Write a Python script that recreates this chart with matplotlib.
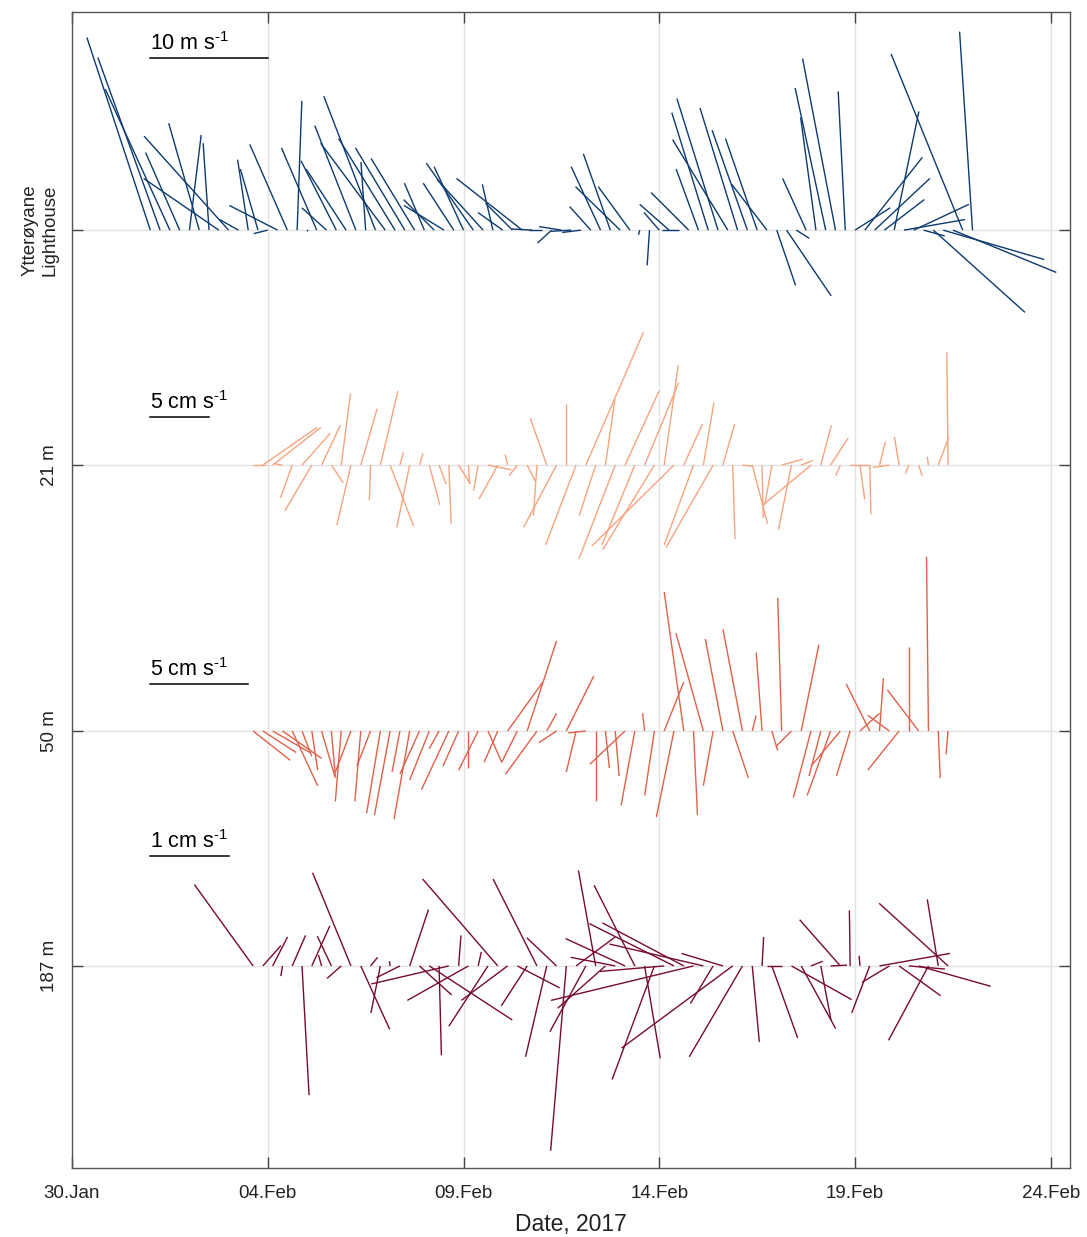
import numpy as np
import pandas as pd
import matplotlib
matplotlib.use('Agg')
import matplotlib.pyplot as plt
import matplotlib.dates as mdates
from matplotlib.collections import LineCollection

plt.rcParams['font.family'] = ['Liberation Sans', 'DejaVu Sans']
plt.rcParams['mathtext.fontset'] = 'custom'
plt.rcParams['mathtext.rm'] = 'Liberation Sans'
plt.rcParams['mathtext.default'] = 'regular'

# ---------------- data ----------------
series_labels = ['Ytterøyane\nLighthouse', '21 m', '50 m', '187 m']
scale_labels = ['10 m s$^{\\text{-1}}$', '5 cm s$^{\\text{-1}}$', '5 cm s$^{\\text{-1}}$', '1 cm s$^{\\text{-1}}$']
scale_refs = [10, 5, 5, 1]

lh_time = pd.date_range('2017-02-01 00:00', periods=85, freq='6h')
lh_u = [-5.4, -5.3, -5.5, -2.9, 1.0, -2.6, -0.5, -6.4, -7.2, -1.6,
        -0.9, -1.5, -1.2, -4.1, -3.2, 0.4, 0.1, -3.0, -2.1, -3.0,
        -3.4, -3.5, -0.4, -4.4, -5.5, -4.8, -4.2, -3.7, -1.7, -2.6,
        -3.4, -2.6, -2.5, -4.0, -3.9, -0.9, -2.1, -2.3, -5.6, -1.7,
        -1.1, -1.2, -1.9, -1.7, -1.6, -1.8, -2.5, -2.3, -3.8, -2.7,
        -0.1, -0.2, -1.3, -2.5, -1.4, -3.2, -1.9, -3.1, -3.5, -4.7,
        -3.2, -3.0, -2.7, -3.0, 1.6, 3.8, 1.1, -2.0, -1.3, -2.6,
        -2.8, -0.6, 3.0, 4.9, 4.7, 3.4, 2.1, 5.2, 4.7, 1.8,
        7.8, 8.6, 8.8, -6.1, -1.1]
lh_v = [16.4, 14.7, 12.0, 6.6, 8.1, 9.1, 7.4, 4.4, 8.0, 0.9,
        6.0, 5.2, -0.3, 2.1, 7.3, 11.0, -0.1, 7.0, 1.9, 5.9,
        5.2, 8.9, 5.8, 11.4, 7.4, 7.8, 7.0, 6.1, 4.0, 2.6,
        2.1, 4.0, 5.4, 5.7, 4.3, 3.9, 1.5, 2.3, 4.4, 0.1,
        0.0, -1.1, 0.3, -0.1, -0.2, 2.0, 5.4, 6.5, 3.7, 3.7,
        -0.4, -3.0, 1.5, 2.2, 0.0, 3.2, 5.2, 10.0, 11.2, 7.7,
        10.4, 8.5, 7.8, 3.9, -4.7, -5.6, -0.7, 4.4, 9.6, 12.1,
        14.6, 11.8, 1.9, 6.2, 4.4, 2.6, 10.1, 0.9, 2.2, -0.5,
        -7.0, -2.5, -3.6, 15.0, 16.9]

cm_time = pd.date_range('2017-02-03 15:00', periods=72, freq='6h')
u21 = [1.1, 4.6, 4.1, -0.6, -1.0, 2.4, -2.3, 1.6, 1.0, 0.8,
       -1.2, 1.4, -0.1, 1.5, 2.0, 0.3, -1.1, 0.3, 0.9, 0.6,
       0.2, 1.0, 0.1, -0.4, 2.0, -1.6, -0.2, -0.7, 0.7, -0.3,
       -1.4, -2.8, 0.0, -2.6, 4.9, -1.4, 0.8, -3.1, 2.9, -2.8,
       2.9, -4.4, 1.2, -7.0, 1.6, -2.5, 0.9, -4.0, 1.0, 0.2,
       0.9, 1.3, 0.1, -0.6, 1.8, -1.1, 1.0, -4.1, 0.9, 1.5,
       -0.4, 1.6, 0.4, 0.1, 0.5, -1.4, -0.4, -0.3, 0.3, -0.1,
       0.9, -0.1]
v21 = [0.0, 3.2, 3.2, 0.1, -2.8, 2.7, -3.9, 3.4, -1.5, 6.1,
       -5.1, 4.8, -3.0, 6.3, -5.2, 1.1, -5.3, 1.0, -3.4, -1.6,
       -5.0, -1.6, -1.6, -2.2, -0.4, -2.9, 0.9, -0.9, -1.4, -4.3,
       4.0, -5.3, 5.2, -6.8, 11.3, -4.3, 5.6, -8.0, 6.3, -6.8,
       7.0, -7.2, 8.5, -6.9, 3.5, -6.8, 5.3, -7.0, 3.5, -6.3,
       -0.1, -5.0, -4.5, -3.4, 0.5, -5.5, 0.4, -3.4, 3.4, 2.3,
       -0.9, 0.0, -2.9, -4.2, 2.0, -0.2, 2.4, -0.7, -0.9, 0.7,
       2.4, 9.6]

u50 = [1.9, 1.7, 1.9, 2.0, 1.3, 0.5, 0.3, 0.7, 0.2, -0.3,
       -0.8, -0.3, -0.7, -0.7, -0.8, -0.4, -0.8, -1.0, -1.0, -0.5,
       -1.4, -0.8, 0.0, -1.0, 0.7, -0.7, 1.8, -0.8, 1.5, -1.6,
       0.5, -0.9, 1.4, -0.5, -0.9, 0.0, 0.2, 0.2, -1.8, -0.7,
       -0.1, -0.5, 1.0, -0.9, -1.0, 0.2, -1.4, -0.5, -0.9, 0.8,
       -1.0, 0.2, -0.3, 0.3, -0.2, -0.8, 0.9, -0.9, -0.6, -1.2,
       -1.5, -0.7, 1.0, -1.2, 0.2, -1.1, -1.6, 0.0, -1.6, -0.1,
       0.1, -0.1]
v50 = [-1.5, -1.1, -1.1, -1.4, -2.8, -1.3, -2.0, -2.4, -2.3, -3.6,
       -2.1, -3.6, -1.8, -4.2, -4.3, -2.1, -4.5, -2.2, -2.5, -0.9,
       -3.0, -1.8, -1.9, -2.0, -1.6, -1.6, 2.5, -1.6, 4.6, -2.2,
       0.9, -0.6, 2.8, -2.1, -0.1, -3.6, -1.9, -2.3, -1.7, -3.8,
       0.9, -3.3, 2.5, -4.4, 7.1, -4.3, 5.0, -2.8, 4.7, -2.4,
       5.2, 0.8, 4.0, -1.0, 6.8, -0.8, 4.4, -3.4, -2.3, -3.3,
       -1.8, -2.3, 0.9, 2.4, 2.7, 0.8, -2.0, 4.3, 2.1, 8.9,
       -2.4, -1.2]

u187 = [-0.75, 0.23, 0.19, -0.02, 0.17, 0.09, 0.23, -0.04, -0.18, -0.18,
        -0.49, 0.37, 0.09, -0.12, -0.01, -0.30, 0.24, 0.41, 1.06, 0.03,
        -0.99, 0.03, -0.78, 0.04, -0.50, -0.96, -0.59, 0.54, -0.33, -0.56,
        -0.27, -0.38, -0.20, 0.50, -0.46, -0.22, -0.61, -0.57, -0.76, -0.52,
        0.20, -0.54, -0.82, -1.08, -1.04, -1.82, -1.20, -0.29, -0.53, -1.42,
        -0.68, 0.09, 0.02, 0.33, -0.19, 0.77, 0.44, 0.15, 0.13, 0.21,
        -0.52, -0.01, -0.01, -0.23, 0.90, -0.35, 0.53, 0.46, 0.92, -0.51,
        -0.14, -0.88]
v187 = [1.04, 0.26, 0.37, -0.13, 0.39, -1.65, 0.51, 0.14, 0.38, -0.16,
        1.19, -0.81, 0.11, -0.60, 0.06, -0.15, 0.72, -0.37, -0.69, -1.14,
        -0.23, 0.39, -0.44, 0.18, -0.77, 1.11, -0.44, -0.28, -0.51, 1.11,
        -1.16, 0.36, -2.36, 0.37, -0.84, 1.22, -0.54, 0.11, 0.35, 1.03,
        -1.18, -1.45, -0.07, 0.54, 0.55, -0.44, 0.28, -0.48, 0.16, -1.05,
        -1.16, -0.97, 0.37, -0.92, 0.00, -0.43, -0.80, 0.06, -0.69, 0.01,
        0.59, 0.71, 0.13, -0.60, 0.16, -0.21, -0.38, -0.04, -0.26, -0.95,
        0.85, 0.80]

tick_dates = ['2017-01-30', '2017-02-04', '2017-02-09', '2017-02-14',
              '2017-02-19', '2017-02-24']

# ---------------- styling / layout ----------------
colors = ['#0d3b6e', '#f6a47f', '#e0604a', '#770b30']
scales = [0.3, 0.3, 0.5, 2.0]          # days (x-units) per velocity unit
baselines = [23.95, 17.95, 11.16, 5.16]
bar_y = [28.35, 19.18, 12.36, 7.97]

series = [(lh_time, lh_u, lh_v), (cm_time, u21, v21),
          (cm_time, u50, v50), (cm_time, u187, v187)]

fig = plt.figure(figsize=(10.87, 12.37), dpi=100)
ax = fig.add_axes([72 / 1087, (1237 - 1168) / 1237, 998 / 1087, 1156 / 1237])

x0 = mdates.date2num(pd.Timestamp('2017-01-30'))
ax.set_xlim(x0, x0 + 25.49)
ax.set_ylim(0, 29.52)

for (t, u, v), c, s, b in zip(series, colors, scales, baselines):
    tn = mdates.date2num(t.to_pydatetime())
    u = np.asarray(u, float)
    v = np.asarray(v, float)
    segs = np.stack([np.column_stack([tn, np.full_like(tn, b)]),
                     np.column_stack([tn + s * u, b + s * v])], axis=1)
    ax.add_collection(LineCollection(segs, colors=c, linewidths=1.0, zorder=3))

# scale bars
bar_start = mdates.date2num(pd.Timestamp('2017-02-01'))
for lab, ref, s, yb in zip(scale_labels, scale_refs, scales, bar_y):
    ax.plot([bar_start, bar_start + s * ref], [yb, yb], color='black', lw=1.1, zorder=4)
    ax.text(bar_start, yb + 0.07, lab, ha='left', va='bottom', fontsize=15.5, color='black')

# ticks
tnums = mdates.date2num(pd.to_datetime(tick_dates).to_pydatetime())
ax.set_xticks(tnums)
ax.set_xticklabels([pd.Timestamp(d).strftime('%d.%b') for d in tick_dates], fontsize=13.5)
ax.set_yticks(baselines)
ax.set_yticklabels(series_labels, rotation=90, va='center', ha='right',
                   multialignment='center', fontsize=13.5)
ax.tick_params(direction='in', length=8, width=1, color='#444444',
               top=True, right=True, labelcolor='#222222')
ax.tick_params(axis='y', pad=10)
ax.tick_params(axis='x', pad=12)

ax.grid(True, color='#e3e3e3', lw=1.0)
ax.set_axisbelow(True)
for sp in ax.spines.values():
    sp.set_color('#555555')
    sp.set_linewidth(1.0)

ax.set_xlabel('Date, 2017', fontsize=16.5, color='#222222', labelpad=8)

fig.savefig('out.png', dpi=100)
